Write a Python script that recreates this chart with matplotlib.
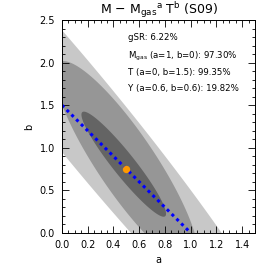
import numpy as np
import matplotlib
matplotlib.use('Agg')
from matplotlib import pyplot as plt
from matplotlib.ticker import MultipleLocator

# confidence regions (outer -> inner):
# centre (a, b), horizontal half-width, vertical half-height, shear of the chord centres
region_a0 = [0.20, 0.50, 0.48]
region_b0 = [1.307, 0.82, 0.807]
region_half_w = [0.391, 0.2676, 0.11]
region_half_h = [3.0, 1.198, 0.617]
region_shear = [0.5264, 0.4085, 0.5016]
region_color = ['#c8c8c8', '#969696', '#646464']

# best fit
best_a = 0.5
best_b = 0.75

# line joining the Mgas and T models
line_a = [0.0, 1.0]
line_b = [1.5, 0.0]

labels = ['gSR: 6.22%',
          r'M$_{\rm gas}$ (a=1, b=0): 97.30%',
          'T (a=0, b=1.5): 99.35%',
          'Y (a=0.6, b=0.6): 19.82%']
label_y = [2.30, 2.07, 1.886, 1.69]

fig = plt.figure(figsize=(2.74, 2.74), dpi=100)
ax = fig.add_axes([0.226, 0.150, 0.705, 0.777])

t = np.linspace(0, 2 * np.pi, 500)
for a0, b0, hw, hh, k, col in zip(region_a0, region_b0, region_half_w, region_half_h,
                                  region_shear, region_color):
    dy = hh * np.sin(t)
    ex = a0 - k * dy + hw * np.cos(t)
    ey = b0 + dy
    ax.fill(ex, ey, color=col, lw=0)

ax.plot(line_a, line_b, color='blue', linestyle=(0, (1, 1.2)), linewidth=2.2)
ax.plot(best_a, best_b, 'o', color='#ff9900', markersize=5.3, markeredgewidth=0)

ax.set_xlim(0, 1.5)
ax.set_ylim(0, 2.5)
ax.xaxis.set_major_locator(MultipleLocator(0.2))
ax.xaxis.set_minor_locator(MultipleLocator(0.05))
ax.yaxis.set_major_locator(MultipleLocator(0.5))
ax.yaxis.set_minor_locator(MultipleLocator(0.1))
ax.tick_params(which='both', direction='in', top=True, right=True, labelsize=7, pad=5)
ax.tick_params(which='major', length=5, width=0.6)
ax.tick_params(which='minor', length=2.5, width=0.6)
for s in ax.spines.values():
    s.set_linewidth(0.7)

ax.set_xlabel('a', fontsize=7)
ax.set_ylabel('b', fontsize=7)
ax.set_title(r'M $-$ M$_{\rm gas}$$^{\rm a}$ T$^{\rm b}$ (S09)', fontsize=9, pad=3)

for txt, y in zip(labels, label_y):
    ax.text(0.51, y, txt, fontsize=6.2, va='center')

fig.savefig('out.png', dpi=100)
